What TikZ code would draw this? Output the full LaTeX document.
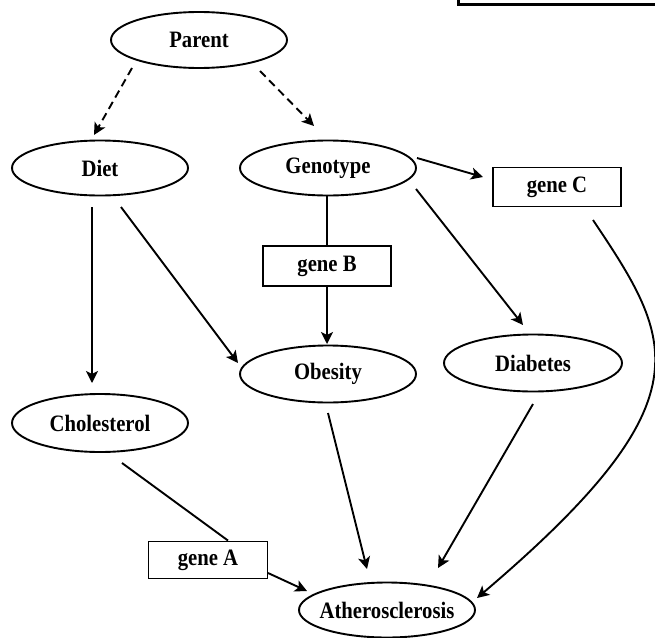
\documentclass[tikz,border=0pt]{standalone}
\usepackage{fontspec}
\newfontfamily\lblfont{Liberation Serif}[FakeStretch=0.88]
\usetikzlibrary{shapes.geometric,arrows.meta,calc}
\begin{document}
\begin{tikzpicture}[x=1pt,y=-1pt,
  lw/.style={line width=1.9pt},
  ell/.style={ellipse,draw,lw,inner sep=0pt,minimum width=176pt,minimum height=56pt,
    font=\lblfont\bfseries\fontsize{23.5}{24}\selectfont},
  gbox/.style={rectangle,draw,lw,inner sep=0pt,
    font=\lblfont\bfseries\fontsize{23.5}{24}\selectfont},
  arr/.style={lw,-{Stealth[length=12pt,width=12pt,inset=3pt]}},
  dasharr/.style={arr,dash pattern=on 8pt off 5pt},
  plain/.style={lw}]
\clip (0,0) rectangle (655,637);
\fill[white] (0,0) rectangle (655,637);

\node[ell] (parent) at (199,40) {\makebox[0pt]{Parent}};
\node[ell,minimum height=55pt] (diet) at (100,168) {\makebox[0pt]{Diet}};
\node[ell,minimum height=55pt] (genotype) at (328,168) {\makebox[0pt]{Genotype}};
\node[ell,minimum height=57pt] (obesity) at (328,374) {\makebox[0pt]{Obesity}};
\node[ell,minimum width=178pt,minimum height=57pt] (diabetes) at (533,363) {\makebox[0pt]{Diabetes}};
\node[ell,minimum height=58pt] (chol) at (100,423) {\makebox[0pt]{Cholesterol}};
\node[ell,minimum height=55pt] (athero) at (387,610) {\makebox[0pt]{Atherosclerosis}};
\node[gbox,minimum width=119pt,minimum height=37pt] (geneA) at (208,560) {gene A};
\node[gbox,minimum width=128pt,minimum height=40pt] (geneB) at (327,266) {gene B};
\node[gbox,minimum width=128pt,minimum height=39pt] (geneC) at (557,187) {gene C};

% partially visible box at top right
\coordinate (tlc) at (458,-10);
\coordinate (brc) at (670,4);
\draw[line width=3pt] (tlc) |- (brc);

\draw[dasharr] ($(parent)+(-67,28)$) -- ($(diet)+(-6,-33)$);
\draw[dasharr] ($(parent)+(61,31)$) -- ($(genotype)+(-14,-42)$);
\draw[arr] ($(diet)+(-8,39)$) -- ($(chol)+(-8,-40)$);
\draw[arr] ($(diet)+(21,39)$) -- ($(obesity)+(-90,-11)$);
\draw[plain] ($(genotype)+(-1,28)$) -- (geneB.north);
\draw[arr] (geneB.south) -- ($(obesity)+(-1,-30)$);
\draw[arr] ($(genotype)+(89,-10)$) -- ($(geneC)+(-74,-10)$);
\draw[arr] ($(genotype)+(88,21)$) -- ($(diabetes)+(-10,-38)$);
\draw[plain] ($(chol)+(22,40)$) -- ($(geneA.north)+(20,0)$);
\draw[arr] ($(geneA)+(60,13)$) -- ($(athero)+(-80,-19)$);
\draw[arr] ($(obesity)+(0,39)$) -- ($(athero)+(-20,-41)$);
\draw[arr] ($(diabetes)+(0,41)$) -- ($(athero)+(51,-42)$);
\draw[arr] ($(geneC)+(36,33)$) .. controls (674,341) and (710,400) .. ($(athero)+(90,-12)$);
\end{tikzpicture}
\end{document}
